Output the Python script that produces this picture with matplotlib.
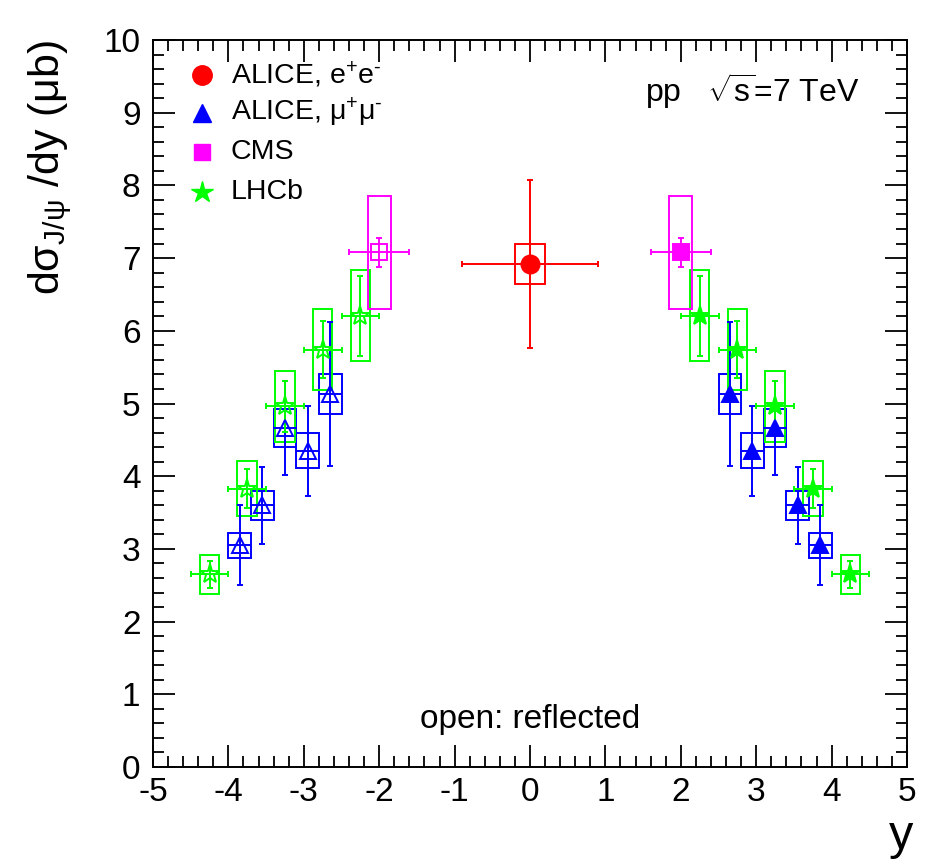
import numpy as np
import matplotlib
matplotlib.use("Agg")
import matplotlib.pyplot as plt
from matplotlib.patches import Rectangle
from matplotlib.ticker import MultipleLocator

plt.rcParams['font.family'] = ['Liberation Sans', 'DejaVu Sans']
plt.rcParams['mathtext.fontset'] = 'custom'
plt.rcParams['mathtext.rm'] = 'Liberation Sans'
plt.rcParams['mathtext.default'] = 'regular'
plt.rcParams['axes.unicode_minus'] = False

# ALICE e+e- (mid rapidity)
y_ee = [0.0]
s_ee = [6.92]
stat_ee = [1.15]
sys_ee = [0.28]
dx_ee = 0.9
box_ee = 0.2

# ALICE mu+mu- (forward)
y_mm = [2.65, 2.95, 3.25, 3.55, 3.85]
s_mm = [5.13, 4.35, 4.66, 3.60, 3.05]
stat_mm = [0.99, 0.62, 0.65, 0.53, 0.55]
sys_mm = [0.28, 0.24, 0.26, 0.20, 0.17]
dx_mm = 0.15
box_mm = 0.15

# CMS
y_cms = [2.0]
s_cms = [7.08]
stat_cms = [0.20]
sys_cms = [0.78]
dx_cms = 0.4
box_cms = 0.15

# LHCb
y_lhcb = [2.25, 2.75, 3.25, 3.75, 4.25]
s_lhcb = [6.21, 5.74, 4.96, 3.83, 2.65]
stat_lhcb = [0.55, 0.39, 0.35, 0.27, 0.19]
sys_lhcb = [0.62, 0.56, 0.49, 0.38, 0.27]
dx_lhcb = 0.25
box_lhcb = 0.13

RED = '#ff0000'
BLUE = '#0000ff'
MAG = '#ff00ff'
GREEN = '#00ff00'

fig = plt.figure(figsize=(9.5, 8.64), dpi=100)
ax = fig.add_axes([153/950, 97/864, 754/950, 727/864])


def draw(ax, x, v, stat, sysr, dx, bw, color, marker, ms, filled, caps_x=True):
    x = np.asarray(x)
    for xi, vi, si in zip(x, v, sysr):
        ax.add_patch(Rectangle((xi - bw, vi - si), 2*bw, 2*si, fill=False,
                               edgecolor=color, lw=1.4, zorder=2))
    ax.errorbar(x, v, yerr=stat, fmt='none', ecolor=color, elinewidth=1.4,
                capsize=2.3, capthick=1.4, zorder=3)
    ax.errorbar(x, v, xerr=dx, fmt='none', ecolor=color, elinewidth=1.4,
                capsize=2.3 if caps_x else 0, capthick=1.4, zorder=3)
    ax.plot(x, v, ls='none', marker=marker, ms=ms, color=color,
            mfc=color if filled else 'none', mec=color, mew=1.4, zorder=4)


# measured points (filled) and reflected points (open)
draw(ax, y_mm, s_mm, stat_mm, sys_mm, dx_mm, box_mm, BLUE, '^', 12, True, caps_x=False)
draw(ax, -np.array(y_mm), s_mm, stat_mm, sys_mm, dx_mm, box_mm, BLUE, '^', 12, False, caps_x=False)
draw(ax, y_lhcb, s_lhcb, stat_lhcb, sys_lhcb, dx_lhcb, box_lhcb, GREEN, '*', 14, True)
draw(ax, -np.array(y_lhcb), s_lhcb, stat_lhcb, sys_lhcb, dx_lhcb, box_lhcb, GREEN, '*', 14, False)
draw(ax, y_cms, s_cms, stat_cms, sys_cms, dx_cms, box_cms, MAG, 's', 12, True)
draw(ax, -np.array(y_cms), s_cms, stat_cms, sys_cms, dx_cms, box_cms, MAG, 's', 12, False)
draw(ax, y_ee, s_ee, stat_ee, sys_ee, dx_ee, box_ee, RED, 'o', 13, True)

ax.set_xlim(-5, 5)
ax.set_ylim(0, 10)
ax.xaxis.set_major_locator(MultipleLocator(1))
ax.xaxis.set_minor_locator(MultipleLocator(0.2))
ax.yaxis.set_major_locator(MultipleLocator(1))
ax.yaxis.set_minor_locator(MultipleLocator(0.2))
ax.tick_params(which='both', direction='in', top=True, right=True, width=1.3)
ax.tick_params(which='major', length=16)
ax.tick_params(which='minor', length=8)
ax.tick_params(axis='x', labelsize=24, pad=7)
ax.tick_params(axis='y', labelsize=24, pad=9)
for sp in ax.spines.values():
    sp.set_linewidth(1.4)

ax.set_xlabel('y', fontsize=35, loc='right')
ax.xaxis.set_label_coords(1.008, -0.065)
ax.set_ylabel('d\u03c3$_{J/\u03c8}$ /dy (\u03bcb)', fontsize=31, loc='top')
ax.yaxis.set_label_coords(-0.105, 1.0)

# legend
leg_labels = ['ALICE, e$^{+}$e$^{\u2010}$', 'ALICE, \u03bc$^{+}$\u03bc$^{\u2010}$', 'CMS', 'LHCb']
leg_colors = [RED, BLUE, MAG, GREEN]
leg_markers = ['o', '^', 's', '*']
leg_ms = [14, 13, 12, 16]
leg_y = [0.952, 0.900, 0.846, 0.791]
for lab, c, m, s, yy in zip(leg_labels, leg_colors, leg_markers, leg_ms, leg_y):
    ax.plot([0.0646], [yy], transform=ax.transAxes, marker=m, ms=s, color=c,
            ls='none', clip_on=False)
    ax.text(0.103, yy, lab, transform=ax.transAxes, fontsize=20.5, va='center', ha='left')

ax.text(0.6525, 0.915, 'pp   $\\sqrt{s}$=7 TeV', transform=ax.transAxes,
        fontsize=23, ha='left', va='baseline')
ax.text(0.5, 0.053, 'open: reflected', transform=ax.transAxes,
        fontsize=24, ha='center', va='baseline')

fig.savefig('out.png', dpi=100)
